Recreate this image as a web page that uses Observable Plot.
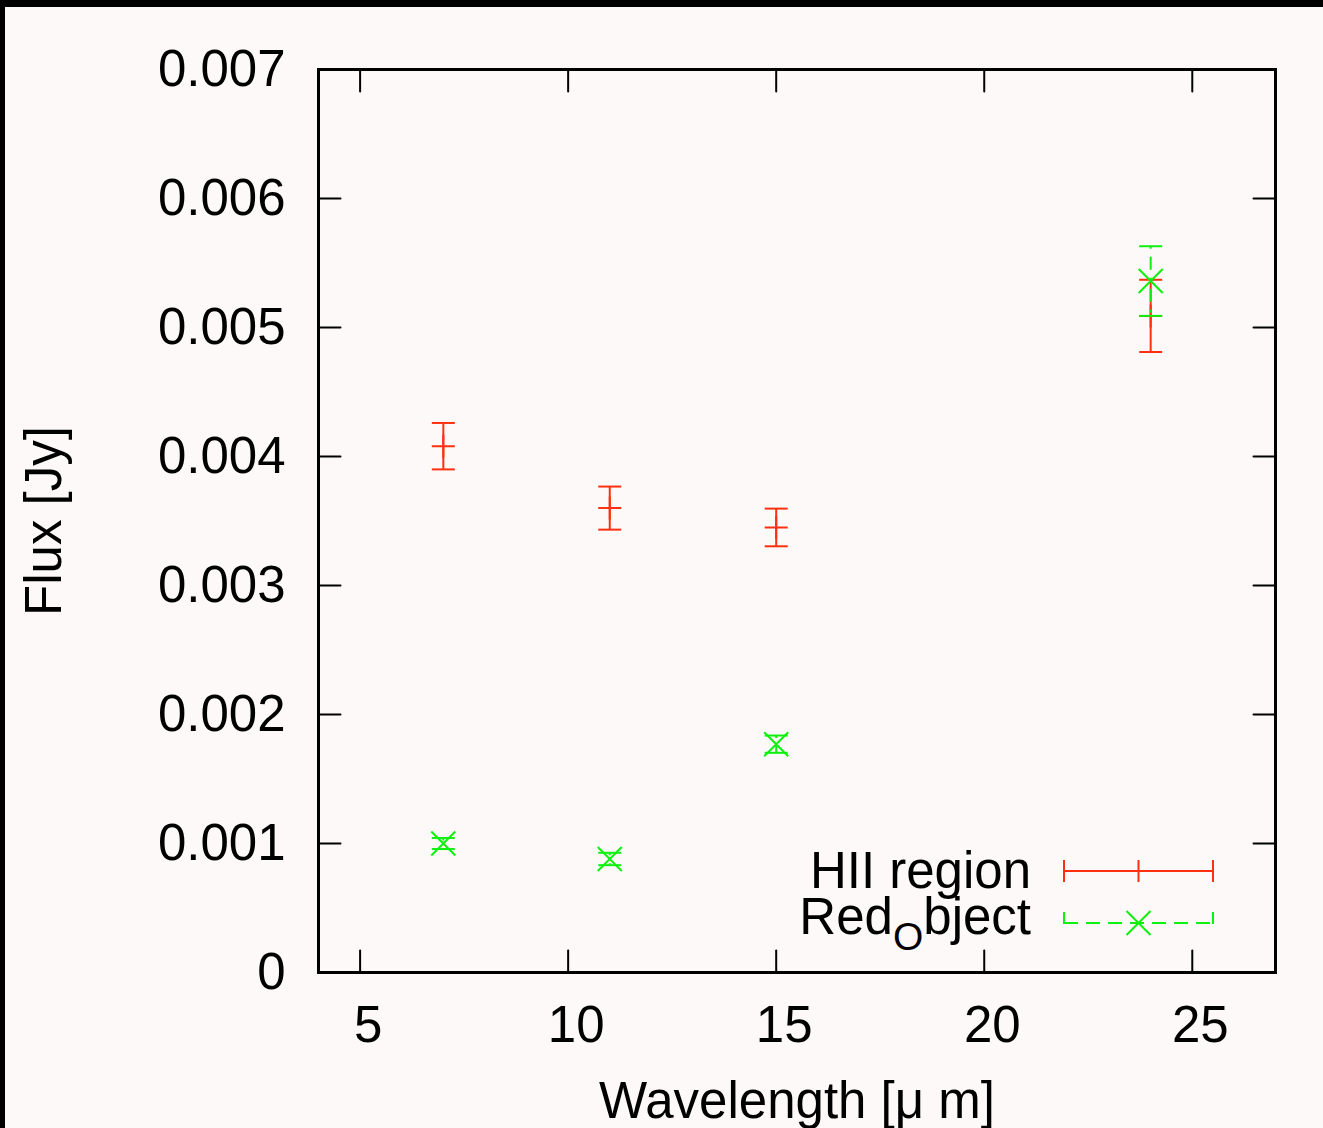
<!DOCTYPE html>
<html><head><meta charset="utf-8">
<script src="https://cdn.jsdelivr.net/npm/d3@7"></script>
<script src="https://cdn.jsdelivr.net/npm/@observablehq/plot@0.6"></script>
<style>
html,body{margin:0;padding:0;background:#fdf9f8;}
#wrap{position:relative;width:1323px;height:1128px;overflow:hidden;background:#fdf9f8;}
#wrap svg{display:block;position:absolute;left:0;top:0;}
#border{position:absolute;left:0;top:0;width:1323px;height:1128px;box-sizing:border-box;border-top:7px solid #000;border-left:5px solid #000;pointer-events:none;z-index:2;}
</style></head>
<body><div id="wrap"><div id="border"></div></div>
<script>
// ---- data ----
const wavelengths = [7, 11, 15, 24];
const hiiFlux = [0.00408, 0.00360, 0.00345, 0.00509];
const hiiErr  = [0.00018, 0.000167, 0.000146, 0.00028];
const redFlux = [0.00100, 0.00088, 0.00177, 0.00536];
const redErr  = [0.000043, 0.000048, 0.000067, 0.00027];
const seriesNames = ["HII region", "Red", "O", "bject"]; // "Red_Object" with subscript O
const xTicks = [5, 10, 15, 20, 25];
const yTicks = [0, 0.001, 0.002, 0.003, 0.004, 0.005, 0.006, 0.007];
const xDomain = [4, 27];
const yDomain = [0, 0.007];
const xLabel = "Wavelength [\u03bc m]";
const yLabel = "Flux [Jy]";

const RED = "#ff3010";
const GREEN = "#0ef00e";
const FONT = "'Liberation Sans', Arial, Helvetica, sans-serif";

const hii = wavelengths.map((x, i) => ({x, y: hiiFlux[i], e: hiiErr[i]}));
const obj = wavelengths.map((x, i) => ({x, y: redFlux[i], e: redErr[i]}));

const tickShape = {draw(ctx, l) { ctx.moveTo(0, 0); ctx.lineTo(0, -l); }};
const hline = {draw(ctx, size) { const r = Math.sqrt(size / Math.PI); ctx.moveTo(-r, 0); ctx.lineTo(r, 0); }};
const plus = {draw(ctx, size) { const r = Math.sqrt(size / Math.PI); ctx.moveTo(-r, 0); ctx.lineTo(r, 0); ctx.moveTo(0, -r); ctx.lineTo(0, r); }};
const times = {draw(ctx, size) { const r = Math.sqrt(size / Math.PI); ctx.moveTo(-r, -r); ctx.lineTo(r, r); ctx.moveTo(-r, r); ctx.lineTo(r, -r); }};

const W = 1323, H = 1128;
const mL = 318, mR = 48, mT = 69, mB = 156;
const TL = 22;

const tickCommon = {length: TL, anchor: "start", shape: tickShape, stroke: "black", strokeWidth: 2};

const chart = Plot.plot({
  width: W, height: H,
  marginLeft: mL, marginRight: mR, marginTop: mT, marginBottom: mB,
  style: {background: "transparent", fontFamily: FONT, fontSize: "51px", color: "black"},
  x: {domain: xDomain, axis: null},
  y: {domain: yDomain, axis: null},
  marks: [
    // error bars: HII region
    Plot.ruleX(hii, {x: "x", y1: d => d.y + d.e, y2: d => d.y - d.e, stroke: RED, strokeWidth: 2}),
    Plot.dot(hii, {x: "x", y: d => d.y + d.e, symbol: hline, r: 11.5, fill: "none", stroke: RED, strokeWidth: 2}),
    Plot.dot(hii, {x: "x", y: d => d.y - d.e, symbol: hline, r: 11.5, fill: "none", stroke: RED, strokeWidth: 2}),
    Plot.dot(hii, {x: "x", y: "y", symbol: plus, r: 11.5, fill: "none", stroke: RED, strokeWidth: 2}),
    // error bars: Red object
    Plot.ruleX(obj, {x: "x", y1: d => d.y + d.e, y2: d => d.y - d.e, stroke: GREEN, strokeWidth: 2, strokeDasharray: "3,8,13,8"}),
    Plot.dot(obj, {x: "x", y: d => d.y + d.e, symbol: hline, r: 11.5, fill: "none", stroke: GREEN, strokeWidth: 2}),
    Plot.dot(obj, {x: "x", y: d => d.y - d.e, symbol: hline, r: 11.5, fill: "none", stroke: GREEN, strokeWidth: 2}),
    Plot.dot(obj, {x: "x", y: "y", symbol: times, r: 12, fill: "none", stroke: GREEN, strokeWidth: 2}),
    // inward ticks on all four sides
    Plot.vector(xTicks, {x: d => d, y: yDomain[0], rotate: 0, ...tickCommon}),
    Plot.vector(xTicks, {x: d => d, y: yDomain[1], rotate: 180, ...tickCommon}),
    Plot.vector(yTicks, {x: xDomain[0], y: d => d, rotate: 90, ...tickCommon}),
    Plot.vector(yTicks, {x: xDomain[1], y: d => d, rotate: -90, ...tickCommon}),
    // tick labels
    Plot.axisX({ticks: xTicks, tickSize: 0, tickPadding: 33, dx: 8, label: null, tickFormat: d3.format("d")}),
    Plot.axisY({ticks: yTicks, tickSize: 0, tickPadding: 33, label: null, tickFormat: d3.format("~g")}),
    // axis titles
    Plot.text([xLabel], {text: d => d, frameAnchor: "bottom", dy: 145, lineAnchor: "bottom", textAnchor: "middle"}),
    Plot.text([yLabel], {text: d => d, frameAnchor: "left", dx: -258, rotate: -90, lineAnchor: "bottom", textAnchor: "middle"}),
    Plot.frame({stroke: "black", strokeWidth: 3})
  ]
});

document.getElementById("wrap").insertBefore(chart, document.getElementById("border"));

// ---- legend (inside the frame, bottom-right) ----
const frameR = W - mR, frameB = H - mB;
const svg = d3.select(chart);
const lg = svg.append("g").attr("font-family", FONT).attr("font-size", 51).attr("fill", "black");
const tx = frameR - 244;           // text right edge
const sx1 = frameR - 211, sx2 = frameR - 62, sxc = (sx1 + sx2) / 2;
const rows = [
  {y: frameB - 101, base: frameB - 84, color: RED, dash: null, marker: "plus"},
  {y: frameB - 49, base: frameB - 38, color: GREEN, dash: "14,8", marker: "times"}
];
// text
lg.append("text").attr("x", tx).attr("y", rows[0].base).attr("text-anchor", "end").text(seriesNames[0]);
const t2 = lg.append("text").attr("x", tx).attr("y", rows[1].base).attr("text-anchor", "end");
t2.append("tspan").text(seriesNames[1]);
t2.append("tspan").attr("font-size", 39).attr("dy", 16).text(seriesNames[2]);
t2.append("tspan").attr("dy", -16).text(seriesNames[3]);
// samples
for (const r of rows) {
  const g = lg.append("g").attr("stroke", r.color).attr("stroke-width", 2).attr("fill", "none");
  g.append("line").attr("x1", sx1).attr("x2", sx2).attr("y1", r.y).attr("y2", r.y).attr("stroke-dasharray", r.dash);
  g.append("line").attr("x1", sx1).attr("x2", sx1).attr("y1", r.y - 11).attr("y2", r.y + 11).attr("stroke-dasharray", r.dash ? "12,14" : null);
  g.append("line").attr("x1", sx2).attr("x2", sx2).attr("y1", r.y - 11).attr("y2", r.y + 11).attr("stroke-dasharray", r.dash ? "12,14" : null);
  if (r.marker === "plus") {
    g.append("path").attr("d", `M${sxc-12},${r.y}H${sxc+12}M${sxc},${r.y-11}V${r.y+11}`);
  } else {
    g.append("path").attr("d", `M${sxc-12},${r.y-12}L${sxc+12},${r.y+12}M${sxc-12},${r.y+12}L${sxc+12},${r.y-12}`);
  }
}
</script>
</body></html>
